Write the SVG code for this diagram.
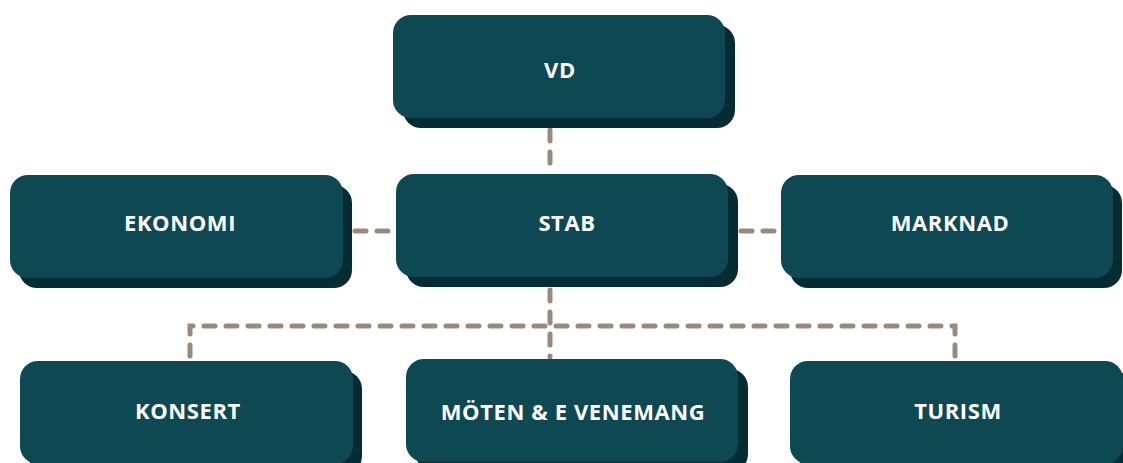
<svg xmlns="http://www.w3.org/2000/svg" width="1123" height="463" viewBox="0 0 1123 463">
<style>
.sh{fill:#052c32}
.bx{fill:#0e4852}
.lb{fill:#ffffff;font-family:"Open Sans","Liberation Sans",sans-serif;font-weight:700;font-size:22px;letter-spacing:0.6px;text-anchor:middle}
.cn{fill:none;stroke:#998a7e;stroke-width:5;stroke-linecap:round;stroke-dasharray:11 11}
</style>
<rect width="1123" height="463" fill="#ffffff"/>
<g id="connectors">
<path class="cn" d="M550,130 V172"/>
<path class="cn" d="M355,231 H392"/>
<path class="cn" d="M741,231 H778"/>
<path class="cn" d="M550,290 V357"/>
<path class="cn" d="M190,356 V326 H955 V356"/>
</g>
<g id="vd">
<rect class="sh" x="403" y="25" width="332" height="103" rx="18"/>
<rect class="bx" x="393" y="15" width="332" height="103" rx="18"/>
<text class="lb" x="560" y="78">VD</text>
</g>
<g id="ekonomi">
<rect class="sh" x="19" y="185" width="333" height="103" rx="18"/>
<rect class="bx" x="10" y="175" width="333" height="103" rx="18"/>
<text class="lb" x="180" y="231">EKONOMI</text>
</g>
<g id="stab">
<rect class="sh" x="406" y="184" width="332" height="103" rx="18"/>
<rect class="bx" x="396" y="174" width="332" height="103" rx="18"/>
<text class="lb" x="567" y="231">STAB</text>
</g>
<g id="marknad">
<rect class="sh" x="790" y="185" width="332" height="103" rx="18"/>
<rect class="bx" x="781" y="175" width="332" height="103" rx="18"/>
<text class="lb" x="950" y="231">MARKNAD</text>
</g>
<g id="konsert">
<rect class="sh" x="29" y="371" width="333" height="103" rx="18"/>
<rect class="bx" x="20" y="361" width="333" height="103" rx="18"/>
<text class="lb" x="188" y="419">KONSERT</text>
</g>
<g id="moten">
<rect class="sh" x="416" y="369" width="332" height="103" rx="18"/>
<rect class="bx" x="406" y="359" width="332" height="103" rx="18"/>
<text class="lb" x="573" y="420">MÖTEN &amp; E VENEMANG</text>
</g>
<g id="turism">
<rect class="sh" x="799" y="371" width="333" height="103" rx="18"/>
<rect class="bx" x="790" y="361" width="333" height="103" rx="18"/>
<text class="lb" x="958" y="419">TURISM</text>
</g>
</svg>
